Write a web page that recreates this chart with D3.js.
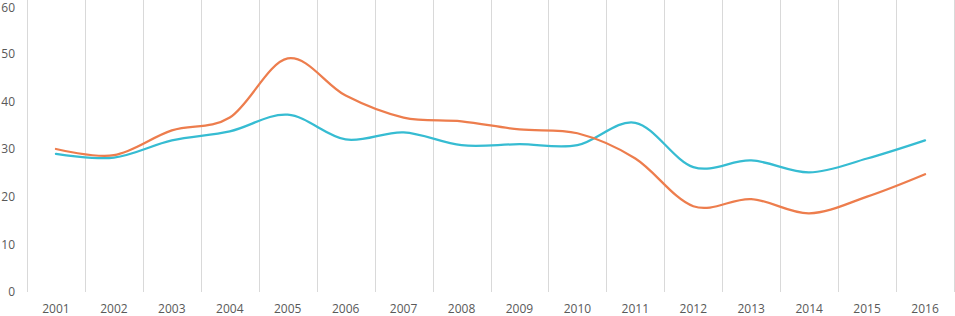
<!DOCTYPE html>
<html>
<head>
<meta charset="utf-8">
<script src="https://cdn.jsdelivr.net/npm/d3@7"></script>
<style>
  body { margin: 0; background: #fff; }
  svg { display: block; }
</style>
</head>
<body>
<div id="chart"></div>
<script>
const years = ["2001","2002","2003","2004","2005","2006","2007","2008","2009","2010","2011","2012","2013","2014","2015","2016"]
const orange = [30, 28.7, 33.9, 36.6, 49, 41.2, 36.6, 35.8, 34.1, 33.3, 28, 18, 19.5, 16.5, 20, 24.7]
const blue = [29, 28.2, 31.8, 33.7, 37.2, 32, 33.5, 30.8, 31, 30.8, 35.5, 26.2, 27.6, 25.1, 28, 31.8]
const yTicks = [0, 10, 20, 30, 40, 50, 60]

const width = 955
const height = 316
const margin = {top: 6, right: 1, bottom: 24, left: 27}

const svg = d3.select("#chart")
    .append("svg")
    .attr("width", width)
    .attr("height", height)

const x = d3.scaleBand()
    .domain(years)
    .range([margin.left, width - margin.right])

const y = d3.scaleLinear()
    .domain([0, 60])
    .range([height - margin.bottom, margin.top])

// vertical gridlines at category boundaries
const bounds = years.map(d => x(d)).concat([x(years[years.length-1]) + x.bandwidth()])
svg.append("g")
    .selectAll("line")
    .data(bounds)
    .join("line")
    .attr("x1", d => Math.round(d) + 0.5)
    .attr("x2", d => Math.round(d) + 0.5)
    .attr("y1", 0)
    .attr("y2", y(0))
    .attr("stroke", "#d9d9d9")
    .attr("stroke-width", 1)

// y labels (top one nudged down so it is not clipped)
svg.append("g")
    .selectAll("text")
    .data(yTicks)
    .join("text")
    .attr("x", 15)
    .attr("y", d => Math.max(y(d), 8))
    .attr("dy", "0.35em")
    .attr("text-anchor", "end")
    .style("font-family", "Open Sans, sans-serif")
    .style("font-size", "12px")
    .attr("fill", "#595959")
    .text(d => d)

// x labels
svg.append("g")
    .selectAll("text")
    .data(years)
    .join("text")
    .attr("x", d => x(d) + x.bandwidth()/2)
    .attr("y", 313)
    .attr("text-anchor", "middle")
    .style("font-family", "Open Sans, sans-serif")
    .style("font-size", "12px")
    .attr("fill", "#595959")
    .text(d => d)

const line = d3.line()
    .x((d, i) => x(years[i]) + x.bandwidth()/2)
    .y(d => y(d))
    .curve(d3.curveCardinal.tension(0))

svg.append("path")
    .datum(blue)
    .attr("fill", "none")
    .attr("stroke", "#36bcd2")
    .attr("stroke-width", 2.25)
    .attr("stroke-linecap", "round")
    .attr("d", line)

svg.append("path")
    .datum(orange)
    .attr("fill", "none")
    .attr("stroke", "#ed7d4d")
    .attr("stroke-width", 2.25)
    .attr("stroke-linecap", "round")
    .attr("d", line)
</script>
</body>
</html>
